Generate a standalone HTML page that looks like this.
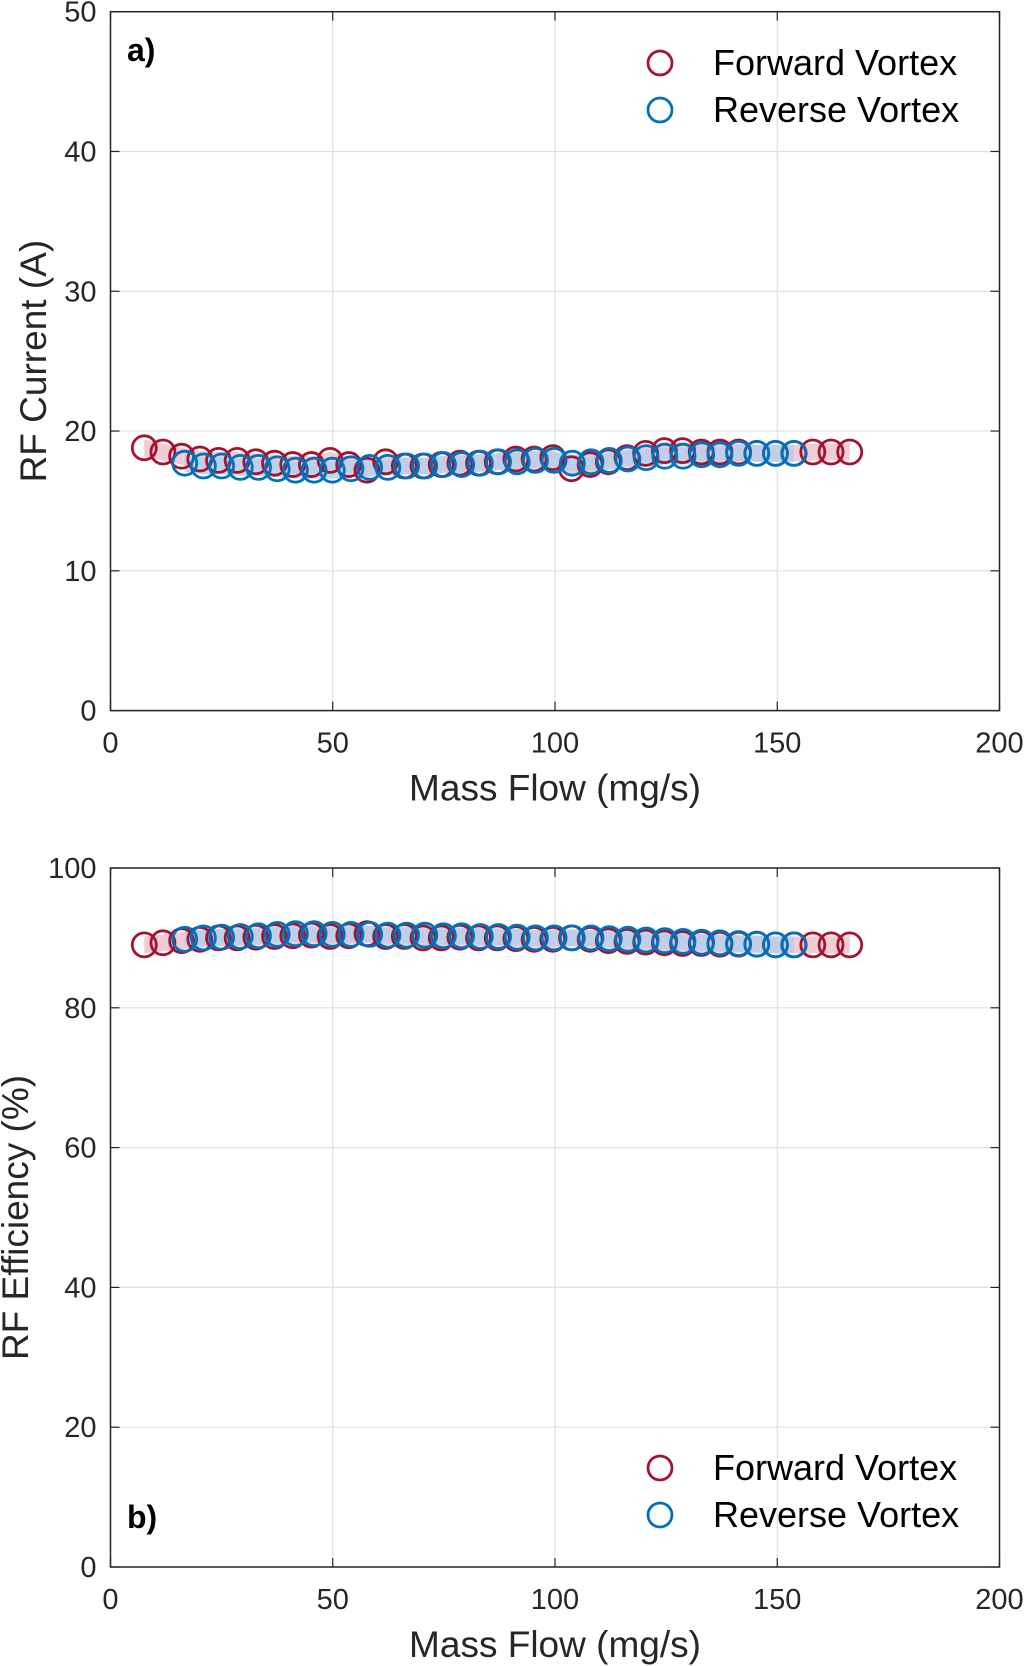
<!DOCTYPE html>
<html><head><meta charset="utf-8"><style>
body{margin:0;background:#fff}
svg{display:block;font-family:"Liberation Sans",Arial,sans-serif}
</style></head><body>
<svg id="c" width="1025" height="1666"></svg>
<script>
const xTicks=[0,50,100,150,200];
const yTicksA=[0,10,20,30,40,50];
const yTicksB=[0,20,40,60,80,100];
const fwdX=[7.6,11.8,16,20.1,24.3,28.5,32.7,36.9,41,45.2,49.4,53.6,57.7,61.9,66.1,70.3,74.4,78.6,82.8,87,91.2,95.3,99.5,103.7,107.9,112,116.2,120.4,124.6,128.7,132.9,137.1,141.3,145.4,149.6,153.8,158,162.1,166.3];
const fwdCurrent=[18.8,18.5,18.2,18.0,17.9,17.9,17.8,17.7,17.6,17.6,17.9,17.6,17.2,17.8,17.5,17.5,17.6,17.7,17.7,17.8,18.0,18.0,18.1,17.3,17.6,17.8,18.1,18.4,18.6,18.6,18.5,18.5,18.5,18.4,18.4,18.4,18.5,18.5,18.5];
const fwdEff=[89,89.3,89.6,89.8,90,90,90.1,90.2,90.3,90.4,90.2,90.3,90.6,90.2,90.2,90,90,90.1,90,90,89.9,89.8,89.8,90,89.8,89.6,89.5,89.4,89.3,89.2,89.2,89.1,89.1,89.1,89,89,89,89,89];
const revX=[16.7,20.9,25,29.2,33.3,37.5,41.6,45.8,49.9,54.1,58.3,62.4,66.6,70.7,74.9,79,83.2,87.3,91.5,95.6,99.8,103.9,108.1,112.2,116.4,120.5,124.7,128.8,133,137.1,141.3,145.4,149.6,153.7];
const revCurrent=[17.7,17.5,17.5,17.4,17.4,17.3,17.2,17.2,17.2,17.3,17.4,17.4,17.5,17.5,17.6,17.6,17.7,17.8,17.8,17.9,17.9,17.7,17.8,17.9,18.0,18.1,18.2,18.2,18.3,18.3,18.4,18.4,18.4,18.4];
const revEff=[89.8,90,90.1,90.2,90.3,90.5,90.6,90.6,90.5,90.5,90.5,90.4,90.4,90.4,90.3,90.3,90.2,90.2,90.1,90,90,90,90,89.9,89.8,89.7,89.6,89.5,89.4,89.3,89.2,89.1,89,89];
const RED='#A2142F',BLUE='#0072BD';
const svg=document.getElementById('c');
const NS='http://www.w3.org/2000/svg';
function mk(t,a,p){const e=document.createElementNS(NS,t);for(const k in a)e.setAttribute(k,a[k]);(p||svg).appendChild(e);return e;}
const L=110.5,R=999.5;
function panel(top,bot,ymax,yTicks,fy,ry,ylab,ylx,lab,labY,legY,name){
  const g=mk('g',{});
  
  
  const X=v=>L+(R-L)*v/200, Y=v=>bot-(bot-top)*v/ymax;
  xTicks.forEach(t=>{
    const l=mk('line',{x1:X(t),x2:X(t),y1:top,y2:bot,stroke:'#e0e0e0','stroke-width':1.2},g);
    
    mk('line',{x1:X(t),x2:X(t),y1:bot,y2:bot-9,stroke:'#262626','stroke-width':1.2},g);
    mk('line',{x1:X(t),x2:X(t),y1:top,y2:top+9,stroke:'#262626','stroke-width':1.2},g);
    const tx=mk('text',{x:X(t),y:bot+42,'text-anchor':'middle','font-size':29,fill:'#262626'},g);tx.textContent=t;
    
  });
  yTicks.forEach(t=>{
    const l=mk('line',{x1:L,x2:R,y1:Y(t),y2:Y(t),stroke:'#e0e0e0','stroke-width':1.2},g);
    
    mk('line',{x1:L,x2:L+9,y1:Y(t),y2:Y(t),stroke:'#262626','stroke-width':1.2},g);
    mk('line',{x1:R,x2:R-9,y1:Y(t),y2:Y(t),stroke:'#262626','stroke-width':1.2},g);
    const tx=mk('text',{x:L-14,y:Y(t)+10,'text-anchor':'end','font-size':29,fill:'#262626'},g);tx.textContent=t;
    
  });
  const box=mk('rect',{x:L,y:top,width:R-L,height:bot-top,fill:'none',stroke:'#262626','stroke-width':1.5},g);
  
  [[fwdX,fy,'#f0c3cd','forward-vortex'],[revX,ry,'#b7cfea','reverse-vortex']].forEach(([xs,ys,bc,n])=>{
    const up=xs.map((x,i)=>X(x)+','+Y(ys[i]+ymax*0.012)).join(' ');
    const dn=xs.map((x,i)=>X(x)+','+Y(ys[i]-ymax*0.012)).reverse().join(' ');
    const band=mk('polygon',{points:up+' '+dn,fill:bc,opacity:0.85},g);
    
  });
  [[fwdX,fy,RED,'forward-vortex-marker'],[revX,ry,BLUE,'reverse-vortex-marker']].forEach(([xs,ys,c,n])=>{
    xs.forEach((x,i)=>{
      const m=mk('circle',{cx:X(x),cy:Y(ys[i]),r:12,fill:'none',stroke:c,'stroke-width':2.8},g);
      
    });
  });
  const xl=mk('text',{x:(L+R)/2,y:bot+90,'text-anchor':'middle','font-size':37,fill:'#262626'},g);xl.textContent='Mass Flow (mg/s)';
  
  const yl=mk('text',{x:0,y:0,'text-anchor':'middle','font-size':37,fill:'#262626',transform:`translate(${ylx},${(top+bot)/2}) rotate(-90)`},g);yl.textContent=ylab;
  
  const pl=mk('text',{x:127,y:labY,'font-size':32,'font-weight':'bold',fill:'#000'},g);pl.textContent=lab;
  
  [['Forward Vortex',RED,0],['Reverse Vortex',BLUE,47]].forEach(([t,c,d])=>{
    const m=mk('circle',{cx:660,cy:legY+d,r:12,fill:'none',stroke:c,'stroke-width':2.8},g);
    
    const tx=mk('text',{x:713,y:legY+d+12,'font-size':36,fill:'#000'},g);tx.textContent=t;
    
  });
}
panel(11.7,710.6,50,yTicksA,fwdCurrent,revCurrent,'RF Current (A)',46,'a)',61,63,'panel-a-current');
panel(868,1567,100,yTicksB,fwdEff,revEff,'RF Efficiency (%)',28,'b)',1528,1468,'panel-b-efficiency');
</script>
</body></html>
